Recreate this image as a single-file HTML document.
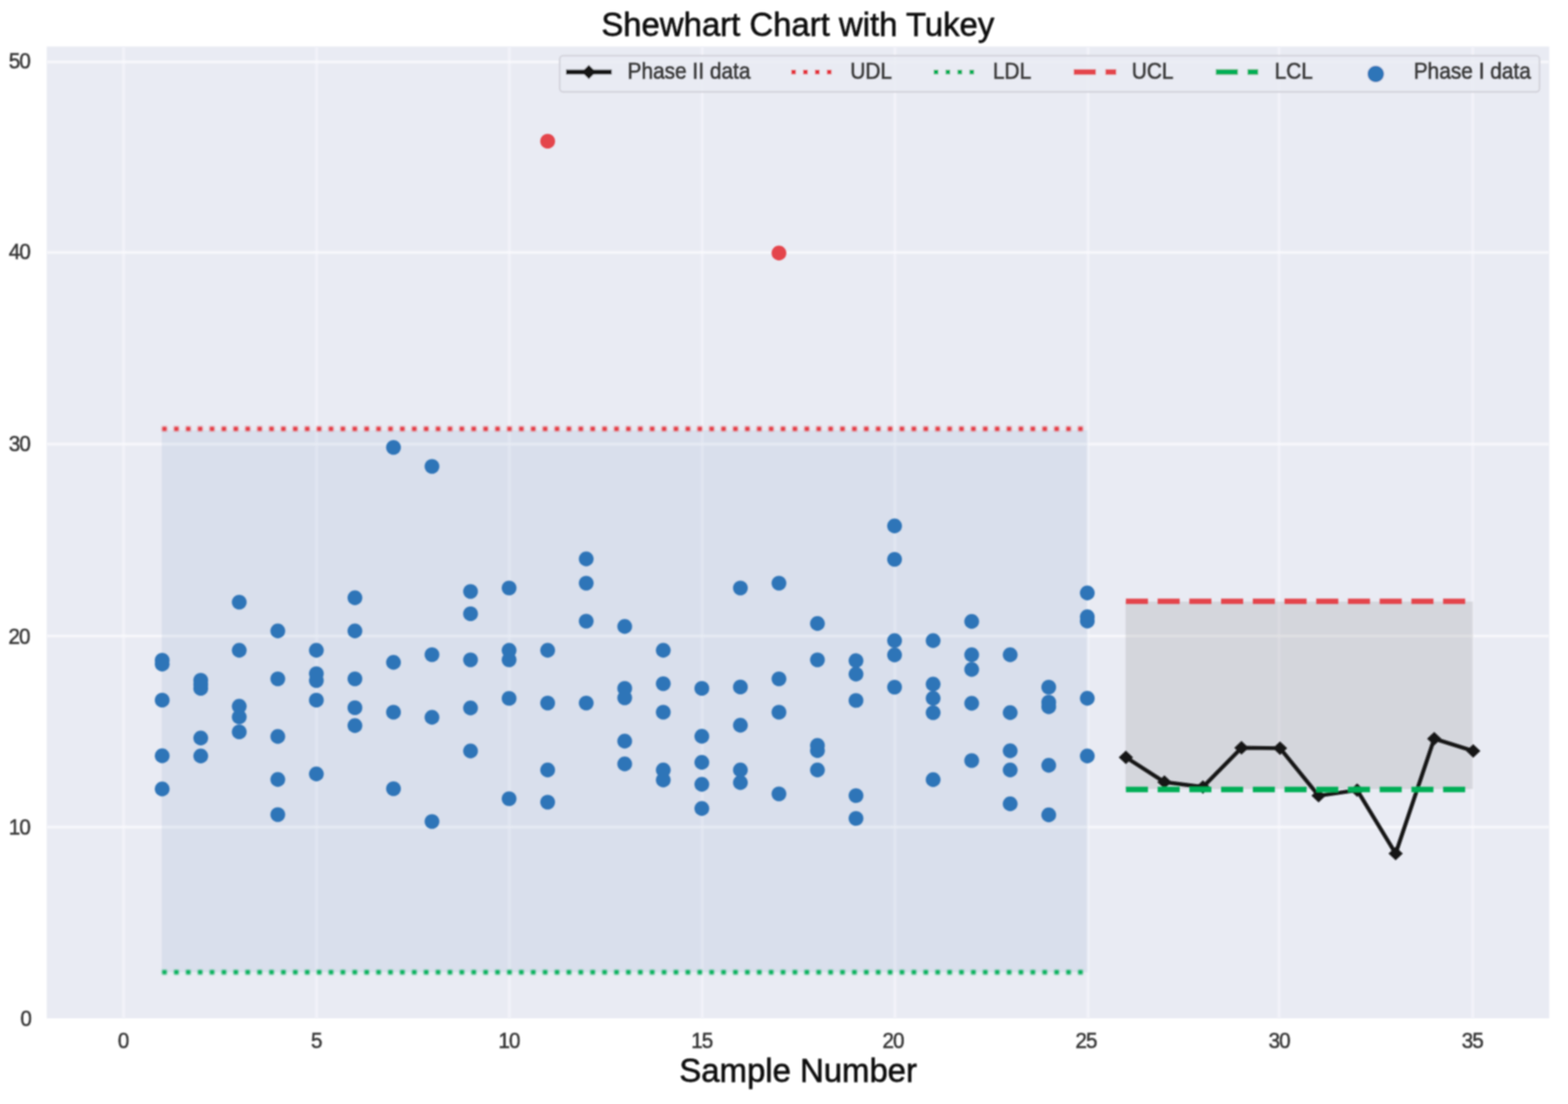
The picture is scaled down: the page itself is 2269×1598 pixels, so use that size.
<!DOCTYPE html>
<html lang="en"><head><meta charset="utf-8"><title>Shewhart Chart with Tukey</title>
<style>
html,body{margin:0;padding:0;background:#fff;}
body{width:2269px;height:1598px;}
svg{display:block;font-family:"Liberation Sans",sans-serif;}
.tick{font-size:29.8px;fill:#383838;stroke:#383838;stroke-width:0.7px;letter-spacing:-1.3px;}
.leg{font-size:30.2px;fill:#383838;stroke:#383838;stroke-width:0.7px;}
.ttl{font-size:47.6px;fill:#0a0a0a;stroke:#0a0a0a;stroke-width:0.8px;}
</style></head><body>
<svg width="2269" height="1598" viewBox="0 0 2269 1598" role="img" aria-label="Shewhart Chart with Tukey">
<defs><clipPath id="pc"><rect x="67.6" y="67.4" width="2174.2" height="1406.6"/></clipPath>
<filter id="soft" x="-2%" y="-2%" width="104%" height="104%"><feGaussianBlur stdDeviation="1.0"/></filter><filter id="soft3" x="-2%" y="-2%" width="104%" height="104%"><feGaussianBlur stdDeviation="1.3"/></filter><filter id="softg" x="-2%" y="-2%" width="104%" height="104%"><feGaussianBlur stdDeviation="1.6"/></filter><filter id="softd" x="-2%" y="-20%" width="104%" height="140%" filterUnits="objectBoundingBox"><feGaussianBlur stdDeviation="0.9"/></filter><filter id="soft2" x="-2%" y="-2%" width="104%" height="104%"><feGaussianBlur stdDeviation="1.0"/></filter></defs>
<rect x="0" y="0" width="2269" height="1598" fill="#ffffff"/>
<g filter="url(#soft2)">
<rect x="67.6" y="67.4" width="2174.2" height="1406.6" fill="#e9ebf3"/>
</g>
<g clip-path="url(#pc)"><g filter="url(#softg)">
<g stroke="#fafafd" stroke-width="3.3" fill="none">
<line x1="178.8" y1="67.4" x2="178.8" y2="1474.0" stroke="#f4f4fa"/>
<line x1="458.2" y1="67.4" x2="458.2" y2="1474.0" stroke="#f4f4fa"/>
<line x1="737.0" y1="67.4" x2="737.0" y2="1474.0" stroke="#f4f4fa"/>
<line x1="1016.2" y1="67.4" x2="1016.2" y2="1474.0" stroke="#f4f4fa"/>
<line x1="1295.0" y1="67.4" x2="1295.0" y2="1474.0" stroke="#f4f4fa"/>
<line x1="1574.4" y1="67.4" x2="1574.4" y2="1474.0" stroke="#f4f4fa"/>
<line x1="1850.8" y1="67.4" x2="1850.8" y2="1474.0" stroke="#f4f4fa"/>
<line x1="2131.2" y1="67.4" x2="2131.2" y2="1474.0" stroke="#f4f4fa"/>
<line x1="67.6" y1="89.7" x2="2241.8" y2="89.7"/>
<line x1="67.6" y1="365.3" x2="2241.8" y2="365.3"/>
<line x1="67.6" y1="642.9" x2="2241.8" y2="642.9"/>
<line x1="67.6" y1="920.6" x2="2241.8" y2="920.6"/>
<line x1="67.6" y1="1197.2" x2="2241.8" y2="1197.2"/>
</g>
</g></g>
<g filter="url(#soft2)"><g clip-path="url(#pc)">
<rect x="234.0" y="622.8" width="1339.7" height="784.4" fill="rgba(76,114,176,0.10)"/>
<rect x="1628.8" y="870.7" width="502.8" height="271.4" fill="rgba(128,128,128,0.20)"/>
</g></g>
<g filter="url(#soft)">
<g clip-path="url(#pc)">
<g fill="#2e74b8">
<circle cx="234.7" cy="955.6" r="10.7"/>
<circle cx="234.7" cy="961.3" r="10.7"/>
<circle cx="234.7" cy="1013.4" r="10.7"/>
<circle cx="234.7" cy="1094.0" r="10.7"/>
<circle cx="234.7" cy="1142.0" r="10.7"/>
<circle cx="290.5" cy="984.6" r="10.7"/>
<circle cx="290.5" cy="990.6" r="10.7"/>
<circle cx="290.5" cy="996.4" r="10.7"/>
<circle cx="290.5" cy="1068.2" r="10.7"/>
<circle cx="290.5" cy="1094.2" r="10.7"/>
<circle cx="346.2" cy="871.6" r="10.7"/>
<circle cx="346.2" cy="941.3" r="10.7"/>
<circle cx="346.2" cy="1022.2" r="10.7"/>
<circle cx="346.2" cy="1037.7" r="10.7"/>
<circle cx="346.2" cy="1059.4" r="10.7"/>
<circle cx="402.0" cy="913.3" r="10.7"/>
<circle cx="402.0" cy="982.6" r="10.7"/>
<circle cx="402.0" cy="1066.0" r="10.7"/>
<circle cx="402.0" cy="1128.3" r="10.7"/>
<circle cx="402.0" cy="1179.1" r="10.7"/>
<circle cx="457.8" cy="941.3" r="10.7"/>
<circle cx="457.8" cy="975.1" r="10.7"/>
<circle cx="457.8" cy="985.1" r="10.7"/>
<circle cx="457.8" cy="1013.4" r="10.7"/>
<circle cx="457.8" cy="1120.3" r="10.7"/>
<circle cx="513.6" cy="865.3" r="10.7"/>
<circle cx="513.6" cy="913.3" r="10.7"/>
<circle cx="513.6" cy="982.6" r="10.7"/>
<circle cx="513.6" cy="1024.4" r="10.7"/>
<circle cx="513.6" cy="1050.2" r="10.7"/>
<circle cx="569.4" cy="647.6" r="10.7"/>
<circle cx="569.4" cy="958.8" r="10.7"/>
<circle cx="569.4" cy="1030.9" r="10.7"/>
<circle cx="569.4" cy="1141.6" r="10.7"/>
<circle cx="625.1" cy="675.1" r="10.7"/>
<circle cx="625.1" cy="947.6" r="10.7"/>
<circle cx="625.1" cy="1038.2" r="10.7"/>
<circle cx="625.1" cy="1189.1" r="10.7"/>
<circle cx="680.9" cy="856.1" r="10.7"/>
<circle cx="680.9" cy="888.4" r="10.7"/>
<circle cx="680.9" cy="955.1" r="10.7"/>
<circle cx="680.9" cy="1024.7" r="10.7"/>
<circle cx="680.9" cy="1087.0" r="10.7"/>
<circle cx="736.7" cy="851.1" r="10.7"/>
<circle cx="736.7" cy="941.3" r="10.7"/>
<circle cx="736.7" cy="955.1" r="10.7"/>
<circle cx="736.7" cy="1010.9" r="10.7"/>
<circle cx="736.7" cy="1156.1" r="10.7"/>
<circle cx="792.5" cy="941.3" r="10.7"/>
<circle cx="792.5" cy="1017.6" r="10.7"/>
<circle cx="792.5" cy="1114.5" r="10.7"/>
<circle cx="792.5" cy="1161.1" r="10.7"/>
<circle cx="848.3" cy="809.0" r="10.7"/>
<circle cx="848.3" cy="844.1" r="10.7"/>
<circle cx="848.3" cy="899.1" r="10.7"/>
<circle cx="848.3" cy="1017.6" r="10.7"/>
<circle cx="904.0" cy="906.8" r="10.7"/>
<circle cx="904.0" cy="996.4" r="10.7"/>
<circle cx="904.0" cy="1010.1" r="10.7"/>
<circle cx="904.0" cy="1072.7" r="10.7"/>
<circle cx="904.0" cy="1105.8" r="10.7"/>
<circle cx="959.8" cy="941.3" r="10.7"/>
<circle cx="959.8" cy="989.6" r="10.7"/>
<circle cx="959.8" cy="1030.9" r="10.7"/>
<circle cx="959.8" cy="1114.5" r="10.7"/>
<circle cx="959.8" cy="1129.0" r="10.7"/>
<circle cx="1015.6" cy="996.4" r="10.7"/>
<circle cx="1015.6" cy="1065.7" r="10.7"/>
<circle cx="1015.6" cy="1103.5" r="10.7"/>
<circle cx="1015.6" cy="1135.3" r="10.7"/>
<circle cx="1015.6" cy="1170.3" r="10.7"/>
<circle cx="1071.4" cy="851.1" r="10.7"/>
<circle cx="1071.4" cy="994.4" r="10.7"/>
<circle cx="1071.4" cy="1049.7" r="10.7"/>
<circle cx="1071.4" cy="1114.5" r="10.7"/>
<circle cx="1071.4" cy="1132.8" r="10.7"/>
<circle cx="1127.2" cy="844.1" r="10.7"/>
<circle cx="1127.2" cy="982.6" r="10.7"/>
<circle cx="1127.2" cy="1030.9" r="10.7"/>
<circle cx="1127.2" cy="1149.1" r="10.7"/>
<circle cx="1182.9" cy="902.5" r="10.7"/>
<circle cx="1182.9" cy="955.1" r="10.7"/>
<circle cx="1182.9" cy="1079.0" r="10.7"/>
<circle cx="1182.9" cy="1086.5" r="10.7"/>
<circle cx="1182.9" cy="1114.5" r="10.7"/>
<circle cx="1238.7" cy="956.3" r="10.7"/>
<circle cx="1238.7" cy="975.8" r="10.7"/>
<circle cx="1238.7" cy="1013.9" r="10.7"/>
<circle cx="1238.7" cy="1151.6" r="10.7"/>
<circle cx="1238.7" cy="1184.6" r="10.7"/>
<circle cx="1294.5" cy="761.3" r="10.7"/>
<circle cx="1294.5" cy="809.6" r="10.7"/>
<circle cx="1294.5" cy="927.3" r="10.7"/>
<circle cx="1294.5" cy="948.0" r="10.7"/>
<circle cx="1294.5" cy="994.6" r="10.7"/>
<circle cx="1350.3" cy="927.3" r="10.7"/>
<circle cx="1350.3" cy="990.2" r="10.7"/>
<circle cx="1350.3" cy="1010.8" r="10.7"/>
<circle cx="1350.3" cy="1031.6" r="10.7"/>
<circle cx="1350.3" cy="1128.5" r="10.7"/>
<circle cx="1406.1" cy="899.5" r="10.7"/>
<circle cx="1406.1" cy="947.8" r="10.7"/>
<circle cx="1406.1" cy="969.0" r="10.7"/>
<circle cx="1406.1" cy="1018.0" r="10.7"/>
<circle cx="1406.1" cy="1100.9" r="10.7"/>
<circle cx="1461.8" cy="947.8" r="10.7"/>
<circle cx="1461.8" cy="1031.5" r="10.7"/>
<circle cx="1461.8" cy="1086.8" r="10.7"/>
<circle cx="1461.8" cy="1114.5" r="10.7"/>
<circle cx="1461.8" cy="1163.5" r="10.7"/>
<circle cx="1517.6" cy="994.6" r="10.7"/>
<circle cx="1517.6" cy="1016.4" r="10.7"/>
<circle cx="1517.6" cy="1023.0" r="10.7"/>
<circle cx="1517.6" cy="1107.7" r="10.7"/>
<circle cx="1517.6" cy="1179.5" r="10.7"/>
<circle cx="1573.4" cy="858.2" r="10.7"/>
<circle cx="1573.4" cy="892.7" r="10.7"/>
<circle cx="1573.4" cy="899.0" r="10.7"/>
<circle cx="1573.4" cy="1010.8" r="10.7"/>
<circle cx="1573.4" cy="1094.2" r="10.7"/>
</g>
<g fill="#e4444b">
<circle cx="792.5" cy="204.4" r="10.7"/>
<circle cx="1127.2" cy="366.3" r="10.7"/>
</g>
<g filter="url(#softd)">
<line x1="234.7" y1="620.8" x2="1573.4" y2="620.8" stroke="#e4303b" stroke-width="6.6" stroke-dasharray="6.600 10.614"/>
<line x1="234.7" y1="1407.2" x2="1573.4" y2="1407.2" stroke="#00ae57" stroke-width="6.6" stroke-dasharray="6.600 10.614"/>
</g>
<polyline points="1629.2,1096.2 1685.0,1132.0 1740.7,1139.2 1796.5,1082.4 1852.3,1083.0 1908.1,1151.7 1963.9,1143.8 2019.6,1235.5 2075.4,1069.3 2131.9,1087.0" fill="none" stroke="#141414" stroke-width="5.7" stroke-linejoin="round"/>
<g fill="#141414">
<polygon points="1629.2,1086.4 1639.5,1096.2 1629.2,1106.0 1618.9,1096.2"/>
<polygon points="1685.0,1122.2 1695.3,1132.0 1685.0,1141.8 1674.7,1132.0"/>
<polygon points="1740.7,1129.4 1751.0,1139.2 1740.7,1149.0 1730.4,1139.2"/>
<polygon points="1796.5,1072.6 1806.8,1082.4 1796.5,1092.2 1786.2,1082.4"/>
<polygon points="1852.3,1073.2 1862.6,1083.0 1852.3,1092.8 1842.0,1083.0"/>
<polygon points="1908.1,1141.9 1918.4,1151.7 1908.1,1161.5 1897.8,1151.7"/>
<polygon points="1963.9,1134.0 1974.2,1143.8 1963.9,1153.6 1953.6,1143.8"/>
<polygon points="2019.6,1225.7 2029.9,1235.5 2019.6,1245.3 2009.3,1235.5"/>
<polygon points="2075.4,1059.5 2085.7,1069.3 2075.4,1079.1 2065.1,1069.3"/>
<polygon points="2131.9,1077.2 2142.2,1087.0 2131.9,1096.8 2121.6,1087.0"/>
</g>
<line x1="1629.3" y1="870.4" x2="2131.2" y2="870.4" stroke="#e4444b" stroke-width="7.9" stroke-dasharray="31.9 14.0"/>
<line x1="1629.3" y1="1142.8" x2="2131.2" y2="1142.8" stroke="#00ae57" stroke-width="7.9" stroke-dasharray="31.9 14.0"/>
</g>
<rect x="810.0" y="80.6" width="1417.8" height="52.4" rx="5" ry="5" fill="#e9ebf3" fill-opacity="0.8" stroke="#d2d2da" stroke-width="2.4"/>
<line x1="819.0" y1="104.3" x2="885.2" y2="104.3" stroke="#141414" stroke-width="6.9"/>
<polygon points="852.1,94.0 862.4,104.3 852.1,114.6 841.8,104.3" fill="#141414"/>
<line x1="1145.0" y1="104.3" x2="1210.0" y2="104.3" stroke="#e4303b" stroke-width="6.6" stroke-dasharray="6.600 10.614"/>
<line x1="1351.2" y1="104.3" x2="1416.2" y2="104.3" stroke="#00ae57" stroke-width="6.6" stroke-dasharray="6.600 10.614"/>
<line x1="1553.8" y1="104.3" x2="1615.2" y2="104.3" stroke="#e4444b" stroke-width="7.9" stroke-dasharray="31.9 14.0"/>
<line x1="1759.4" y1="104.3" x2="1820.6" y2="104.3" stroke="#00ae57" stroke-width="7.9" stroke-dasharray="31.9 14.0"/>
<circle cx="1990.8" cy="107.1" r="11.9" fill="#2e74b8"/>
</g>
<g filter="url(#soft)">
<text class="ttl" x="1154.5" y="51.6" text-anchor="middle">Shewhart Chart with Tukey</text>
<text class="ttl" x="1155.0" y="1565.9" text-anchor="middle">Sample Number</text>
</g>
<g filter="url(#soft3)">
<text class="leg" transform="translate(908.0 114.0) scale(1 1.070)">Phase II data</text>
<text class="leg" transform="translate(1230.4 114.0) scale(1 1.070)">UDL</text>
<text class="leg" transform="translate(1436.8 114.0) scale(1 1.070)">LDL</text>
<text class="leg" transform="translate(1637.7 114.0) scale(1 1.070)">UCL</text>
<text class="leg" transform="translate(1844.4 114.0) scale(1 1.070)">LCL</text>
<text class="leg" transform="translate(2045.7 114.0) scale(1 1.070)">Phase I data</text>
<text class="tick" transform="translate(178.2 1516.8) scale(1 1.070)" text-anchor="middle">0</text>
<text class="tick" transform="translate(457.7 1516.8) scale(1 1.070)" text-anchor="middle">5</text>
<text class="tick" transform="translate(736.4 1516.8) scale(1 1.070)" text-anchor="middle">10</text>
<text class="tick" transform="translate(1015.6 1516.8) scale(1 1.070)" text-anchor="middle">15</text>
<text class="tick" transform="translate(1292.3 1516.8) scale(1 1.070)" text-anchor="middle">20</text>
<text class="tick" transform="translate(1571.6 1516.8) scale(1 1.070)" text-anchor="middle">25</text>
<text class="tick" transform="translate(1850.9 1516.8) scale(1 1.070)" text-anchor="middle">30</text>
<text class="tick" transform="translate(2130.5 1516.8) scale(1 1.070)" text-anchor="middle">35</text>
<text class="tick" transform="translate(44.8 1484.8) scale(1 1.070)" text-anchor="end">0</text>
<text class="tick" transform="translate(43.3 1207.5) scale(1 1.070)" text-anchor="end">10</text>
<text class="tick" transform="translate(42.9 931.8) scale(1 1.070)" text-anchor="end">20</text>
<text class="tick" transform="translate(43.3 653.1) scale(1 1.070)" text-anchor="end">30</text>
<text class="tick" transform="translate(43.3 375.1) scale(1 1.070)" text-anchor="end">40</text>
<text class="tick" transform="translate(43.3 98.6) scale(1 1.070)" text-anchor="end">50</text>
</g>
</svg></body></html>
